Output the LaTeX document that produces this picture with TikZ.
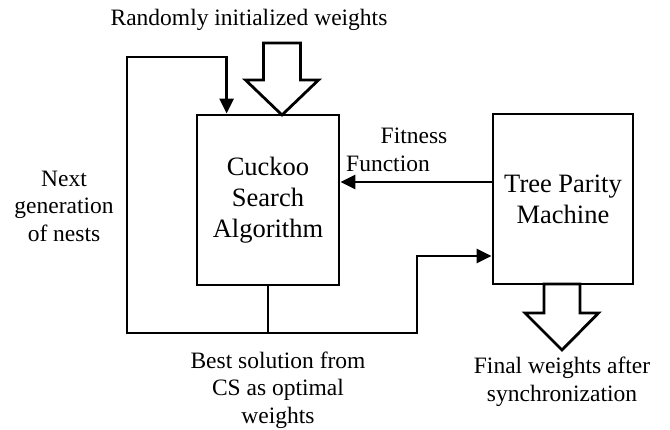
\documentclass[tikz,border=0pt]{standalone}
\usepackage{fontspec}
\setmainfont{Liberation Serif}
\usetikzlibrary{arrows.meta,calc}
\begin{document}
\begin{tikzpicture}[x=1pt,y=-1pt,
  block/.style={draw, line width=2.8pt, minimum width=142pt, minimum height=170pt,
    inner sep=0pt, align=center, font=\fontsize{26.5}{31}\selectfont},
  lbl/.style={align=center, inner sep=0pt, font=\fontsize{23.5}{27.5}\selectfont},
  wire/.style={line width=2.8pt},
  flow/.style={wire, -{Triangle[length=15pt,width=14pt]}},
  hollow/.style={draw, line width=2.8pt, fill=white, line join=miter}]
\useasboundingbox (0,0) rectangle (670,430);

% the two processing blocks
\node[block] (cs) at (268,200) {Cuckoo\\Search\\Algorithm};
\node[block, minimum width=140pt] (tpm) at (563,199) {Tree Parity\\Machine};

% wide input arrow into the search block
\coordinate (intip) at (282,115);
\draw[hollow] (intip) -- ++(36.5,-35) -- ++(-18,0) -- ++(0,-37) -- ++(-37,0)
  -- ++(0,37) -- ++(-18,0) -- cycle;

% wide output arrow from the parity machine
\coordinate (outtip) at (562,350);
\coordinate (outbase) at (562,284);
\draw[hollow] (outtip) -- ++(36.5,-37) -- ++(-18.5,0) -- (outbase -| 580,0)
  -- (outbase -| 544,0) -- ++(0,29) -- ++(-19,0) -- cycle;

% fitness feedback
\draw[flow] (tpm.west |- 0,182) -- (cs.east |- 0,182);

% best solution loop
\coordinate (j) at (268,333);
\coordinate (lft) at (127,57);
\coordinate (rgt) at (417,256);
\draw[wire] (cs.south) -- (j);
\draw[flow] (j) -| (lft) -| ($(cs.north west)+(31,0)$);
\draw[flow] (j) -| (rgt) -- (rgt -| tpm.west);

% labels
\node[lbl] (rw) at (249,20) {Randomly initialized weights};
\node[lbl] (ff1) at (414,136) {Fitness};
\node[lbl] (ff2) at (388,164) {Function};
\node[lbl] (ng) at (64,206) {Next\\generation\\of nests};
\node[lbl] (bs) at (278,390) {Best solution from\\CS as optimal\\weights};
\node[lbl] (fw) at (562,382) {Final weights after\\synchronization};
\end{tikzpicture}
\end{document}
